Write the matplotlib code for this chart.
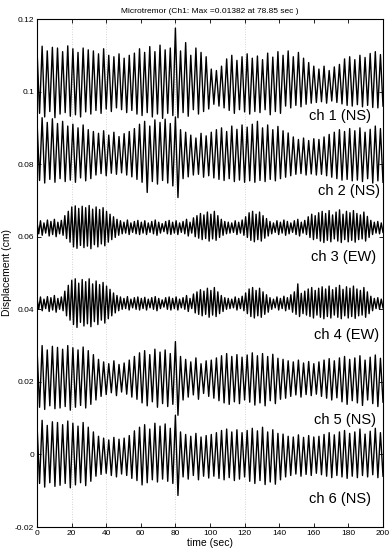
import numpy as np
import matplotlib
matplotlib.use("Agg")
import matplotlib.pyplot as plt

plt.rcParams["font.family"] = ["Liberation Sans", "DejaVu Sans"]

# trace extrema, in units of 1e-4 cm relative to each offset
ch1_up = [118, 125, 112, 122, 120, 110, 126, 118, 108, 120, 115,
          112, 104, 118, 100, 96, 104, 92, 100, 106,
          118, 108, 124, 110, 128, 115, 120,
          175,
          112, 135, 100, 120, 108, 96,
          62, 58, 70, 90, 100, 86, 96,
          104, 92, 98, 88, 106, 95, 110,
          100, 112, 96, 108, 92, 80, 70,
          62, 70, 58, 68, 75, 90, 96,
          88, 100, 94, 105, 110, 102]
ch1_dn = [-60, -70, -55, -72, -62, -58, -68, -64, -70, -56, -62,
          -52, -60, -48, -55, -45, -50, -58, -52, -62,
          -66, -58, -70, -62, -74, -60, -66,
          -72,
          -58, -68, -50, -62, -55, -48,
          -35, -40, -45, -52, -60, -50, -56,
          -62, -55, -58, -50, -64, -55, -60,
          -40, -45, -38, -42, -35, -32, -30,
          -28, -32, -26, -30, -34, -38, -40,
          -36, -42, -38, -44, -45, -40]

ch2_up = [120, 128, 115, 125, 112, 118, 105, 110, 100, 108, 95,
          90, 85, 92, 80, 88, 76, 84, 90, 98,
          110, 118, 105, 122, 115, 124, 112,
          130,
          95, 88, 80, 72, 85, 78,
          88, 95, 100, 90, 105, 96, 108,
          102, 110, 118, 100, 108, 95, 104,
          92, 86, 75, 68, 72, 65, 70,
          68, 75, 82, 88, 95, 90, 98,
          92, 100, 88, 96, 105, 98]
ch2_dn = [-45, -52, -42, -50, -40, -48, -44, -50, -38, -46, -40,
          -30, -26, -32, -25, -28, -24, -30, -35, -42,
          -50, -78, -48, -55, -45, -52, -60,
          -92,
          -40, -35, -30, -28, -36, -32,
          -38, -42, -45, -40, -48, -44, -50,
          -46, -50, -45, -48, -42, -46, -40,
          -36, -32, -28, -26, -30, -27, -30,
          -28, -32, -36, -40, -44, -42, -46,
          -44, -48, -40, -52, -46, -50]

ch3_up = [40, 44, 38, 46, 42, 48, 40, 45, 58, 70,
          82, 85, 78, 84, 80, 86, 76, 82, 75, 80,
          70, 62, 55, 48, 44, 40, 46, 38, 42, 45,
          40, 44, 38, 42, 46, 40, 36, 42, 45, 40,
          44, 38, 42, 48, 40, 52, 58, 64, 60, 68,
          62, 70, 58, 48, 42, 40, 38, 44, 40, 46,
          55, 66, 70, 62, 68, 58, 50, 42, 38, 44,
          40, 46, 42, 38, 44, 48, 40, 45, 55, 62,
          58, 66, 70, 64, 72, 60, 68, 74, 62, 70,
          66, 72, 64, 60, 68, 56, 45, 40, 42, 38]
ch3_dn = [8, 4, 10, 2, 6, 0, 8, 4, -5, -15,
          -28, -32, -24, -30, -26, -33, -22, -28, -20, -25,
          -15, -8, -2, 4, 8, 10, 6, 12, 8, 6,
          10, 6, 12, 8, 4, 10, 14, 8, 6, 10,
          6, 12, 8, 2, 10, 0, -4, -8, -5, -12,
          -6, -10, -2, 4, 8, 10, 12, 6, 10, 4,
          -2, -10, -14, -8, -12, -4, 2, 8, 12, 6,
          10, 4, 8, 12, 6, 2, 10, 6, -2, -8,
          -5, -12, -16, -10, -14, -6, -12, -16, -8, -14,
          -10, -15, -8, -6, -12, -2, 6, 10, 8, 12]

ch4_up = [30, 34, 28, 35, 32, 38, 30, 34, 50, 66,
          80, 84, 72, 82, 76, 84, 70, 78, 68, 74,
          64, 55, 45, 38, 34, 30, 35, 28, 32, 34,
          30, 33, 28, 32, 35, 30, 26, 32, 34, 30,
          34, 28, 32, 38, 30, 42, 48, 54, 50, 58,
          52, 60, 48, 38, 32, 30, 28, 34, 30, 36,
          45, 56, 60, 52, 58, 48, 40, 32, 28, 34,
          30, 36, 32, 40, 48, 70, 44, 50, 56, 60,
          52, 58, 62, 56, 64, 54, 60, 66, 55, 62,
          58, 64, 56, 52, 60, 48, 36, 30, 32, 28]
ch4_dn = [0, -4, 2, -6, -2, -8, 0, -4, -18, -30,
          -42, -50, -36, -46, -40, -48, -34, -42, -30, -38,
          -26, -18, -10, -4, 0, 2, -2, 4, 0, -2,
          2, -2, 4, 0, -4, 2, 6, 0, -2, 2,
          -2, 4, 0, -6, 2, -10, -14, -18, -14, -22,
          -16, -20, -12, -6, 0, 2, 4, -2, 2, -4,
          -12, -20, -24, -18, -22, -14, -8, 0, 4, -2,
          2, -4, 0, -8, -14, -20, -12, -16, -20, -24,
          -16, -22, -26, -20, -24, -16, -22, -26, -18, -24,
          -20, -25, -18, -16, -22, -12, -4, 2, 0, 4]

ch5_up = [92, 100, 88, 98, 95, 90, 100, 94, 88, 96, 86,
          75, 62, 55, 50, 58, 48, 52, 60, 70,
          80, 86, 75, 90, 82, 88, 78,
          111,
          70, 62, 55, 66, 50, 58,
          60, 66, 72, 78, 70, 75, 68,
          74, 80, 72, 78, 70, 76, 65,
          62, 58, 55, 60, 52, 56, 50,
          55, 60, 64, 58, 66, 70, 62,
          66, 72, 60, 68, 74, 65]
ch5_dn = [-70, -76, -66, -74, -72, -68, -78, -70, -65, -72, -62,
          -50, -40, -35, -30, -38, -28, -34, -42, -48,
          -58, -66, -55, -70, -60, -68, -62,
          -92,
          -50, -42, -36, -48, -32, -40,
          -45, -52, -58, -62, -55, -60, -50,
          -56, -64, -58, -66, -52, -60, -48,
          -45, -40, -36, -42, -35, -38, -34,
          -40, -45, -50, -44, -55, -62, -52,
          -58, -65, -50, -60, -68, -56]

ch6_up = [85, 94, 80, 90, 88, 82, 92, 86, 78, 88, 75,
          62, 50, 45, 40, 47, 42, 45, 52, 65,
          75, 82, 70, 86, 78, 84, 72,
          108,
          62, 55, 50, 58, 48, 52,
          55, 60, 66, 70, 62, 68, 60,
          66, 72, 65, 75, 62, 68, 58,
          56, 50, 48, 54, 47, 52, 48,
          50, 55, 60, 54, 62, 66, 58,
          62, 70, 56, 64, 72, 60]
ch6_dn = [-80, -90, -78, -88, -85, -80, -92, -84, -78, -86, -74,
          -60, -55, -52, -58, -62, -54, -58, -66, -72,
          -84, -78, -70, -76, -68, -74, -80,
          -113,
          -62, -68, -58, -70, -60, -65,
          -60, -66, -70, -64, -72, -68, -62,
          -74, -80, -72, -83, -76, -82, -70,
          -62, -58, -54, -60, -55, -58, -52,
          -56, -60, -64, -58, -62, -66, -60,
          -64, -58, -62, -56, -64, -60]

offsets = [0.10, 0.08, 0.06, 0.04, 0.02, 0.0]
labels = ["ch 1 (NS)", "ch 2 (NS)", "ch 3 (EW)", "ch 4 (EW)", "ch 5 (NS)", "ch 6 (NS)"]
label_x = [193, 198, 196, 198, 196, 193]
label_y = [0.0932, 0.0727, 0.0545, 0.0328, 0.0094, -0.0123]

x_ticks = [0, 20, 40, 60, 80, 100, 120, 140, 160, 180, 200]
y_ticks = [-0.02, 0, 0.02, 0.04, 0.06, 0.08, 0.1, 0.12]
y_ticklabels = ["-0.02", "0", "0.02", "0.04", "0.06", "0.08", "0.1", "0.12"]

traces = [(ch1_up, ch1_dn), (ch2_up, ch2_dn), (ch3_up, ch3_dn),
          (ch4_up, ch4_dn), (ch5_up, ch5_dn), (ch6_up, ch6_dn)]

fig = plt.figure(figsize=(3.92, 5.55), dpi=100, facecolor="white")
ax = fig.add_axes([37 / 392, 1 - 527 / 555, 346 / 392, 508 / 555])

# faint dotted grid seen in the scan
for gx in [20, 40, 80, 120]:
    ax.axvline(gx, color="#c8c8c8", linewidth=0.6, linestyle=(0, (1, 2)), zorder=0)

for (up, dn), off in zip(traces, offsets):
    zz = np.empty(2 * len(up))
    zz[0::2] = up
    zz[1::2] = dn
    t = np.linspace(0, 200, len(zz))
    ax.plot(t, off + zz * 1e-4, color="black", linewidth=1.0)

for lab, lx, ly in zip(labels, label_x, label_y):
    ax.text(lx, ly, lab, ha="right", va="center", fontsize=10.5)

ax.set_xlim(0, 200)
ax.set_ylim(-0.02, 0.12)
ax.set_xticks(x_ticks)
ax.set_yticks(y_ticks)
ax.set_yticklabels(y_ticklabels)
ax.tick_params(direction="in", length=3, width=0.6, labelsize=6,
               top=True, right=True, pad=2)
for s in ax.spines.values():
    s.set_linewidth(0.8)

ax.set_title("Microtremor (Ch1: Max =0.01382 at 78.85 sec )", fontsize=6, pad=4)
ax.set_xlabel("time (sec)", fontsize=7.5, labelpad=1)
ax.set_ylabel("Displacement (cm)", fontsize=7.5, labelpad=2)

fig.savefig("out.png", dpi=100, facecolor="white")
